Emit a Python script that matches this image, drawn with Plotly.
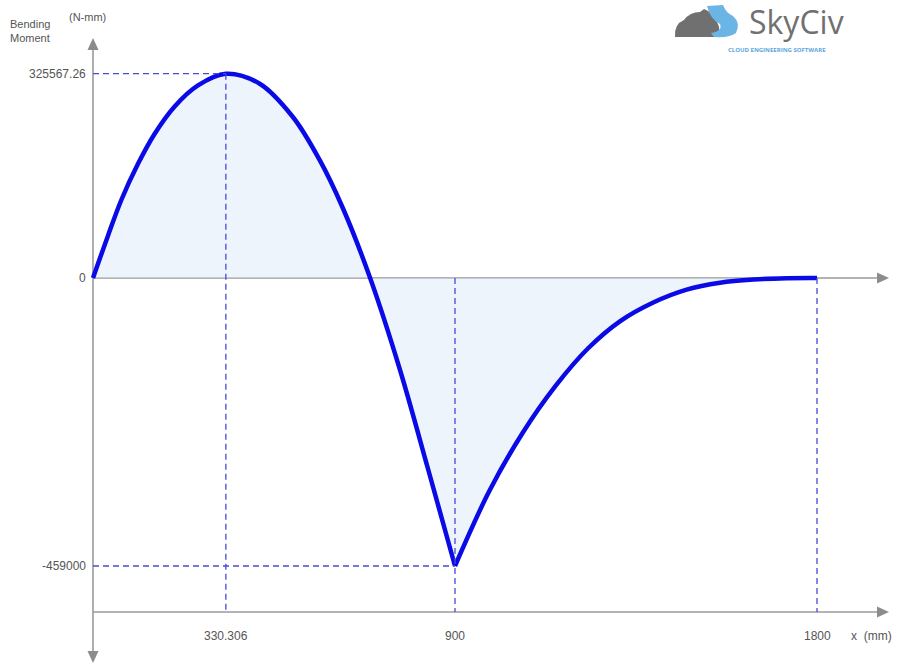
import plotly.graph_objects as go

# ---------------- data ----------------
x_span1 = [0, 37.3, 70.4, 111.9, 153.4, 203, 261, 330.306, 413.5, 496.5,
           562.7, 620.8, 689, 763.3, 833.7, 900]
m_span1 = [0, 67500, 124300, 182000, 230000, 273500, 307000, 325567.26,
           310000, 257000, 189000, 112000, 0, -146600, -306000, -459000]
x_span2 = [900, 985, 1068, 1150, 1231, 1310, 1393, 1476, 1559,
           1642, 1725, 1800]
m_span2 = [-459000, -340000, -247000, -172000, -112000, -69000, -39000,
           -18500, -7500, -2400, -300, 0]

x_ticks = [330.306, 900, 1800]
x_tick_labels = ["330.306", "900", "1800"]
y_ticks = [325567.26, 0, -459000]
y_tick_labels = ["325567.26", "0", "-459000"]
peak_x, peak_m = 330.306, 325567.26
min_x, min_m = 900, -459000
end_x = 1800

# ---------------- layout constants (pixels) ----------------
W, H = 921, 665
X0PX, XEND_PX = 93, 817
XSCALE = (XEND_PX - X0PX) / 1800.0
Y0PX, YMIN_PX = 278, 566
YSCALE = (YMIN_PX - Y0PX) / 459000.0
BOTTOM_AXIS_PX = 612

x_range = [(0 - X0PX) / XSCALE, (W - X0PX) / XSCALE]
y_range = [-(H - Y0PX) / YSCALE, Y0PX / YSCALE]
y_bottom_axis = -(BOTTOM_AXIS_PX - Y0PX) / YSCALE


def px(xp):
    return xp / W


def py(yp):
    return 1 - yp / H


LINE_BLUE = "#0a0ae6"
FILL = "rgba(218,230,248,0.45)"
AXIS_GRAY = "#9a9a9a"
DASH_BLUE = "#4a4ad6"
TEXT_GRAY = "#555555"
FONT = "Liberation Sans, Arial, sans-serif"

fig = go.Figure()
for xs, ms in [(x_span1, m_span1), (x_span2, m_span2)]:
    fig.add_trace(go.Scatter(
        x=xs, y=ms, mode="lines",
        line=dict(color=LINE_BLUE, width=4.5, shape="spline", smoothing=1.0),
        fill="tozeroy", fillcolor=FILL, hoverinfo="skip", showlegend=False,
    ))

shapes = []
dash = "6px,4px"
for (xa, xb, ya, yb) in [(0, peak_x, peak_m, peak_m),
                         (peak_x, peak_x, peak_m, y_bottom_axis),
                         (0, min_x, min_m, min_m),
                         (min_x, min_x, 0, y_bottom_axis),
                         (end_x, end_x, 0, y_bottom_axis)]:
    shapes.append(dict(type="line", xref="x", yref="y", x0=xa, x1=xb,
                       y0=ya, y1=yb,
                       line=dict(color=DASH_BLUE, width=1.3, dash=dash)))


def hline(y_px, x_from, x_to):
    shapes.append(dict(type="line", xref="paper", yref="paper",
                       x0=px(x_from), x1=px(x_to), y0=py(y_px), y1=py(y_px),
                       line=dict(color=AXIS_GRAY, width=1.6), layer="below"))
    tip = x_to + 12
    shapes.append(dict(type="path", xref="paper", yref="paper",
                       path=f"M {px(tip)} {py(y_px)} L {px(x_to)} {py(y_px - 5.5)} "
                            f"L {px(x_to)} {py(y_px + 5.5)} Z",
                       fillcolor="#8c8c8c", line=dict(width=0)))


hline(Y0PX, X0PX, 877)
hline(BOTTOM_AXIS_PX, X0PX, 877)
shapes.append(dict(type="line", xref="paper", yref="paper",
                   x0=px(X0PX), x1=px(X0PX), y0=py(50), y1=py(652),
                   line=dict(color=AXIS_GRAY, width=1.6), layer="below"))
shapes.append(dict(type="path", xref="paper", yref="paper",
                   path=f"M {px(X0PX)} {py(38)} L {px(X0PX - 5.5)} {py(50)} "
                        f"L {px(X0PX + 5.5)} {py(50)} Z",
                   fillcolor="#8c8c8c", line=dict(width=0)))
shapes.append(dict(type="path", xref="paper", yref="paper",
                   path=f"M {px(X0PX)} {py(663)} L {px(X0PX - 5.5)} {py(651)} "
                        f"L {px(X0PX + 5.5)} {py(651)} Z",
                   fillcolor="#8c8c8c", line=dict(width=0)))


def P(pts):
    out = []
    for tok in pts:
        if isinstance(tok, str):
            out.append(tok)
        else:
            out.append(f"{px(tok[0])},{py(tok[1])}")
    return " ".join(out)


# SkyCiv logo approximation (gray cloud + blue S-shape)
shapes.append(dict(type="path", xref="paper", yref="paper",
                   path=P(["M", (675, 37), "Q", (674, 24), (684, 20),
                           "Q", (690, 12), (700, 12), "L", (704, 9),
                           "Q", (712, 12), (714, 18),
                           "Q", (722, 26), (718, 37), "Z"]),
                   fillcolor="#707070", line=dict(width=0)))
shapes.append(dict(type="path", xref="paper", yref="paper",
                   path=P(["M", (707, 6), "L", (723, 5),
                           "Q", (726, 13), (733, 16),
                           "Q", (741, 23), (736, 33),
                           "Q", (730, 38), (714, 37),
                           "L", (711, 33),
                           "Q", (723, 31), (720, 24),
                           "Q", (710, 19), (707, 6), "Z"]),
                   fillcolor="#6bb4e6", line=dict(width=0)))

annotations = []


def text(x, y, s, size, color=TEXT_GRAY, xanchor="center", xref="paper",
         yref="paper", family=FONT, align="center"):
    annotations.append(dict(x=x, y=y, xref=xref, yref=yref, text=s,
                            showarrow=False, xanchor=xanchor, yanchor="middle",
                            align=align, borderpad=0,
                            font=dict(size=size, color=color, family=family)))


for xv, lab in zip(x_ticks, x_tick_labels):
    text(xv, py(636), lab, 12, xref="x")
for yv, lab in zip(y_ticks, y_tick_labels):
    text(px(87), yv, lab, 12, xanchor="right", yref="y")
text(px(850), py(636), "x&nbsp;&nbsp;(mm)", 12, xanchor="left")
text(px(9), py(31), "Bending<br>Moment", 11, xanchor="left", align="left")
text(px(68), py(17), "(N-mm)", 11, xanchor="left")
text(px(796), py(22), "SkyCiv", 32, color="#707070",
     family="Open Sans, sans-serif")
text(px(777), py(50), "<b>CLOUD ENGINEERING SOFTWARE</b>", 6,
     color="#5aa6dc", family="Open Sans, sans-serif")

fig.update_layout(
    width=W, height=H,
    margin=dict(l=0, r=0, t=0, b=0),
    paper_bgcolor="white", plot_bgcolor="white",
    xaxis=dict(range=x_range, visible=False, fixedrange=True),
    yaxis=dict(range=y_range, visible=False, fixedrange=True),
    shapes=shapes, annotations=annotations,
    showlegend=False,
)

fig.write_html("out.html", config={"displayModeBar": False},
               post_script="document.body.style.margin='0';document.body.style.overflow='hidden';")
